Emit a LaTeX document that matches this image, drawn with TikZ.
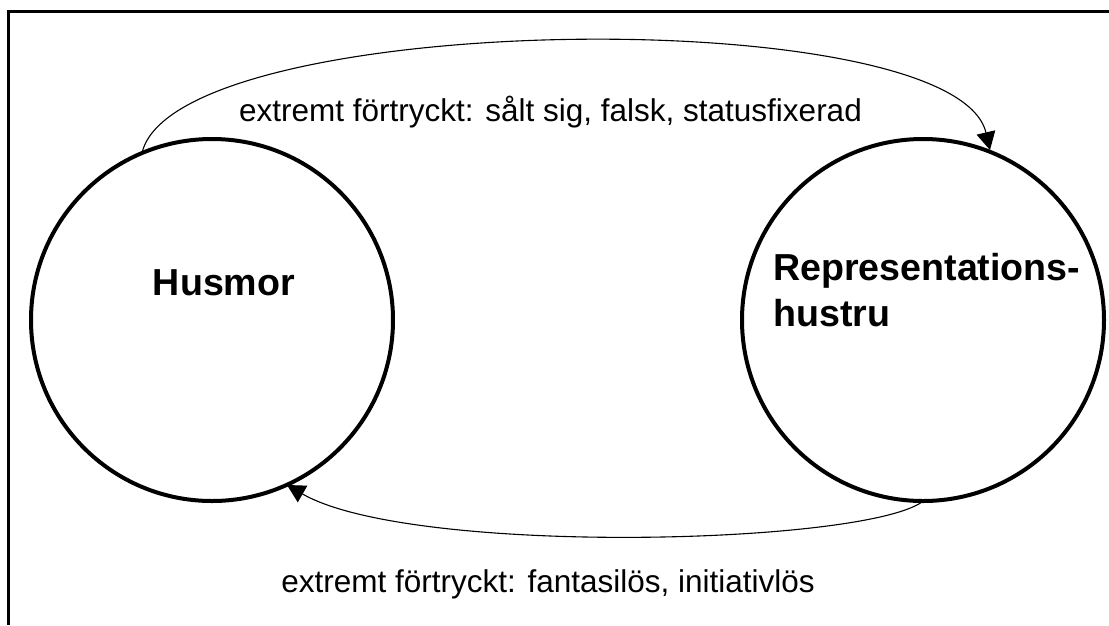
\documentclass[tikz,border=0pt]{standalone}
\usepackage{fontspec}
\setmainfont{Liberation Sans}
\usetikzlibrary{arrows.meta}
\begin{document}
\begin{tikzpicture}[x=1pt,y=-1pt,
  ring/.style={line width=4pt},
  conn/.style={line width=1.1pt,-{Triangle[length=18pt,width=19pt]}},
  lbl/.style={font=\fontsize{31.5}{38}\selectfont,inner sep=0pt},
  stlbl/.style={font=\fontsize{37.6}{46.7}\selectfont\bfseries,align=left,inner sep=0pt}]
\useasboundingbox (0,0) rectangle (1109,625);
\draw[line width=3pt] (1109,11.5) -- (8.5,11.5) -- (8.5,625);
\draw[ring] (212,320) circle [radius=181];
\draw[ring] (923,320) circle [radius=181];
\node[stlbl,anchor=base] (h) at (224,295.5) {Husmor};
\node[stlbl,anchor=base west] (r) at (773,326.7) {Representations-\\hustru};
\coordinate (a1) at (142,153);
\coordinate (a2) at (990,150);
\coordinate (b1) at (922,502);
\coordinate (b2) at (287,485);
\draw[conn] (a1) .. controls (175,10) and (955,0) .. (a2);
\draw[conn] (b1) .. controls (860,545) and (410,556) .. (b2);
\node[lbl,anchor=base east] (t1) at (862,121.7) {extremt förtryckt: sålt sig, falsk, statusfixerad};
\node[lbl,anchor=base] (t2) at (548,592) {extremt förtryckt: fantasilös, initiativlös};
\end{tikzpicture}
\end{document}
